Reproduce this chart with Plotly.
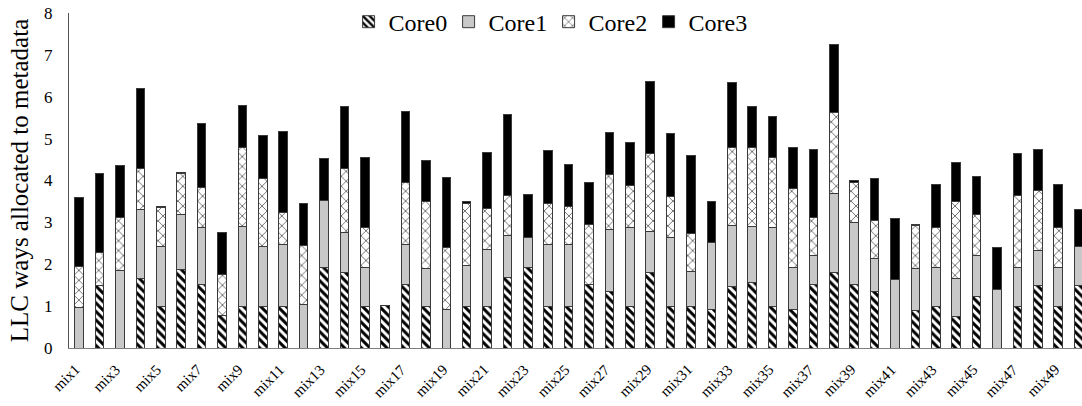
import plotly.graph_objects as go

mixes = [f"mix{i}" for i in range(1, 51)]
core0 = [0, 1.49, 0, 1.65, 0.99, 1.87, 1.52, 0.77, 1.0, 1.0,
         0.99, 0, 1.92, 1.80, 0.99, 1.01, 1.51, 0.99, 0, 1.0,
         0.99, 1.69, 1.92, 0.99, 0.99, 1.51, 1.35, 1.0, 1.80, 0.99,
         1.0, 0.92, 1.47, 1.56, 1.0, 0.92, 1.52, 1.80, 1.51, 1.35,
         0, 0.90, 0.98, 0.75, 1.23, 0, 0.98, 1.49, 1.0, 1.49]
core1 = [0.97, 0, 1.85, 1.65, 1.44, 1.33, 1.35, 0, 1.90, 1.43,
         1.49, 1.03, 1.61, 0.95, 0.94, 0, 0.97, 0.90, 0.93, 0.98,
         1.37, 0.99, 0.72, 1.49, 1.47, 0, 1.48, 1.87, 0.99, 1.64,
         0.82, 1.60, 1.45, 1.34, 1.87, 1.01, 0.68, 1.90, 1.48, 0.78,
         1.63, 0.99, 0.94, 0.91, 0.97, 1.40, 0.94, 0.83, 0.93, 0.93]
core2 = [0.98, 0.78, 1.27, 0.98, 0.93, 0.97, 0.97, 0.98, 1.88, 1.62,
         0.76, 1.41, 0, 1.53, 0.95, 0, 1.48, 1.60, 1.47, 1.48,
         0.97, 0.95, 0, 0.98, 0.92, 1.45, 1.31, 1.01, 1.86, 0.98,
         0.92, 0, 1.88, 1.88, 1.68, 1.88, 0.92, 1.93, 0.97, 0.92,
         0, 1.04, 0.96, 1.83, 0.98, 0, 1.72, 1.44, 0.95, 0]
core3 = [1.65, 1.90, 1.25, 1.91, 0.03, 0.03, 1.51, 1.01, 1.02, 1.02,
         1.93, 1.00, 1.00, 1.48, 1.67, 0, 1.68, 0.98, 1.68, 0.03,
         1.34, 1.94, 1.02, 1.26, 1.01, 1.00, 1.00, 1.02, 1.72, 1.51,
         1.85, 0.98, 1.54, 0.98, 0.97, 0.97, 1.63, 1.61, 0.03, 1.00,
         1.47, 0.03, 1.02, 0.95, 0.92, 1.00, 1.01, 0.99, 1.02, 0.88]
series_names = ["Core0", "Core1", "Core2", "Core3"]
tick_labels = mixes[::2]

font_family = "Liberation Serif"
outline = dict(color="#3a3a3a", width=1)

fig = go.Figure()
fig.add_trace(go.Bar(
    x=mixes, y=core0, name=series_names[0],
    marker=dict(color="white", line=outline,
                pattern=dict(shape="\\", fgcolor="black", bgcolor="white",
                             size=6, solidity=0.5, fillmode="replace")),
))
fig.add_trace(go.Bar(
    x=mixes, y=core1, name=series_names[1],
    marker=dict(color="#c8c8c8", line=outline),
))
fig.add_trace(go.Bar(
    x=mixes, y=core2, name=series_names[2],
    marker=dict(color="white", line=outline,
                pattern=dict(shape="x", fgcolor="#444444", bgcolor="white",
                             size=7, solidity=0.2, fillmode="replace")),
))
fig.add_trace(go.Bar(
    x=mixes, y=core3, name=series_names[3],
    marker=dict(color="black", line=outline),
))

# x-axis category labels drawn as rotated text at the tick positions
for lab in tick_labels:
    fig.add_annotation(
        x=lab, y=0, xref="x", yref="y", text=lab, showarrow=False,
        textangle=-45, xanchor="right", yanchor="top", yshift=-12, xshift=5,
        borderpad=0,
        font=dict(size=15, family=font_family, color="black"),
    )

fig.update_layout(
    width=1082, height=406,
    barmode="stack", bargap=0.58,
    paper_bgcolor="white", plot_bgcolor="white",
    margin=dict(l=69, r=0, t=13, b=58, autoexpand=False),
    font=dict(family=font_family, color="black"),
    showlegend=True,
    legend=dict(orientation="h", x=0.276, xanchor="left", y=1.04, yanchor="top",
                font=dict(size=24, family=font_family), bgcolor="rgba(0,0,0,0)",
                traceorder="normal", itemwidth=30, entrywidth=55, entrywidthmode="pixels"),
    xaxis=dict(
        type="category", range=[-0.5, 49.17],
        showticklabels=False,
        showline=True, linecolor="#7f7f7f", linewidth=1,
        ticks="", showgrid=False, automargin=False,
    ),
    yaxis=dict(
        range=[0, 8], dtick=1, tickfont=dict(size=17, family=font_family),
        showline=True, linecolor="#555555", linewidth=1,
        ticks="", showgrid=False, zeroline=False, ticklabelstandoff=12,
        title=dict(text="LLC ways allocated to metadata", font=dict(size=25, family=font_family),
                   standoff=8),
        automargin=False,
    ),
)

fig.write_html("out.html")
